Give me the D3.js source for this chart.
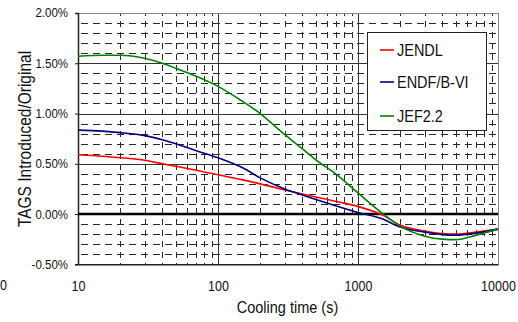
<!DOCTYPE html>
<html>
<head>
<meta charset="utf-8">
<script src="https://cdn.jsdelivr.net/npm/d3@7"></script>
<style>
  html, body { margin: 0; padding: 0; background: #fff; }
  svg { display: block; font-family: "Liberation Sans", Arial, sans-serif; }
</style>
</head>
<body>
<svg id="chart" width="518" height="322"></svg>
<script>
// Cooling time (s)
const times = [10, 15, 20, 30, 40, 50, 70, 100, 150, 200, 300, 400, 500, 700, 1000, 1500, 2000, 3000, 4000, 5000, 7000, 10000];
// Ratio change, in percent
const jendl = [0.59, 0.575, 0.56, 0.535, 0.50, 0.475, 0.435, 0.39, 0.34, 0.30, 0.24, 0.20, 0.17, 0.125, 0.075, -0.01, -0.11, -0.17, -0.195, -0.20, -0.18, -0.15];
const endf  = [0.835, 0.825, 0.81, 0.78, 0.74, 0.70, 0.63, 0.56, 0.46, 0.36, 0.25, 0.19, 0.145, 0.08, 0.015, -0.05, -0.13, -0.18, -0.205, -0.21, -0.19, -0.15];
const jef   = [1.57, 1.58, 1.58, 1.55, 1.50, 1.45, 1.37, 1.27, 1.12, 1.00, 0.79, 0.65, 0.54, 0.395, 0.21, 0.005, -0.12, -0.22, -0.25, -0.255, -0.21, -0.15];

const seriesNames = ["JENDL", "ENDF/B-VI", "JEF2.2"];
const seriesColors = ["#ff0000", "#000080", "#008000"];
const seriesValues = [jendl, endf, jef];

const xTicks = [10, 100, 1000, 10000];
const yTicks = [-0.5, 0, 0.5, 1.0, 1.5, 2.0];
const yTickLabels = ["-0.50%", "0.00%", "0.50%", "1.00%", "1.50%", "2.00%"];

const svg = d3.select("#chart");
const plotLeft = 78, plotRight = 498, plotTop = 13, plotBottom = 264.3;
const stretch = 1.15; // glyphs are drawn slightly taller than wide

const x = d3.scaleLog().domain([10, 10000]).range([plotLeft, plotRight]);
const y = d3.scaleLinear().domain([-0.5, 2.0]).range([plotBottom, plotTop]);

// text placed at (tx, ty) with vertical stretch
function label(parent, tx, ty, str, size, anchor, rot) {
  return parent.append("text")
    .attr("transform", `translate(${tx},${ty})` + (rot ? ` rotate(${rot})` : "") + ` scale(1,${stretch})`)
    .attr("text-anchor", anchor || "start")
    .attr("font-size", size).attr("fill", "#111")
    .text(str);
}

const grid = svg.append("g");

// minor horizontal grid every 0.1%
const minorY = d3.range(-4, 20).map(i => i / 10).filter(v => Math.abs(v * 2 - Math.round(v * 2)) > 1e-6);
grid.selectAll("line.hminor").data(minorY).join("line")
  .attr("x1", plotLeft).attr("x2", plotRight)
  .attr("y1", d => Math.round(y(d)) + 0.5).attr("y2", d => Math.round(y(d)) + 0.5)
  .attr("stroke", "#2a2a2a").attr("stroke-width", 1)
  .attr("stroke-dasharray", "7,5").attr("stroke-dashoffset", -3);

// minor vertical grid at 2..9 of each decade
const minorX = [];
[10, 100, 1000].forEach(d => { for (let k = 2; k <= 9; k++) minorX.push(d * k); });
grid.selectAll("line.vminor").data(minorX).join("line")
  .attr("x1", d => Math.round(x(d)) + 0.5).attr("x2", d => Math.round(x(d)) + 0.5)
  .attr("y1", plotTop).attr("y2", plotBottom)
  .attr("stroke", "#2a2a2a").attr("stroke-width", 1)
  .attr("stroke-dasharray", "6,5").attr("stroke-dashoffset", 3);

// major horizontal grid
grid.selectAll("line.hmajor").data([0.5, 1.0, 1.5]).join("line")
  .attr("x1", plotLeft).attr("x2", plotRight)
  .attr("y1", d => Math.round(y(d)) + 0.5).attr("y2", d => Math.round(y(d)) + 0.5)
  .attr("stroke", "#333").attr("stroke-width", 1);

// major vertical grid
grid.selectAll("line.vmajor").data([100, 1000]).join("line")
  .attr("x1", d => Math.round(x(d)) + 0.5).attr("x2", d => Math.round(x(d)) + 0.5)
  .attr("y1", plotTop).attr("y2", plotBottom)
  .attr("stroke", "#333").attr("stroke-width", 1);

// plot frame: top and right in grey
svg.append("line").attr("x1", plotLeft).attr("x2", plotRight + 0.5).attr("y1", plotTop + 0.5).attr("y2", plotTop + 0.5)
  .attr("stroke", "#888").attr("stroke-width", 1);
svg.append("line").attr("x1", plotRight + 0.5).attr("x2", plotRight + 0.5).attr("y1", plotTop).attr("y2", plotBottom)
  .attr("stroke", "#888").attr("stroke-width", 1);

// axes
const yAxis = svg.append("g").attr("transform", `translate(${plotLeft},0)`)
  .call(d3.axisLeft(y).tickValues(yTicks).tickSize(3).tickFormat((d, i) => yTickLabels[i]));
yAxis.select(".domain").attr("stroke", "#222").attr("stroke-width", 1.5);
yAxis.selectAll(".tick line").attr("stroke", "#222");
yAxis.selectAll(".tick text")
  .attr("x", -10).attr("dy", "0.3em").attr("font-size", 11.5).attr("fill", "#111")
  .attr("font-family", "Liberation Sans, Arial, sans-serif")
  .attr("transform", `scale(1,${stretch})`);

const xAxis = svg.append("g").attr("transform", `translate(0,${plotBottom})`)
  .call(d3.axisBottom(x).tickValues(xTicks).tickSize(0).tickFormat(d3.format("d")));
xAxis.select(".domain").attr("stroke", "#222").attr("stroke-width", 1.5);
xAxis.selectAll(".tick text")
  .attr("y", 14).attr("font-size", 12.5).attr("fill", "#111")
  .attr("font-family", "Liberation Sans, Arial, sans-serif")
  .attr("transform", `scale(1,${stretch})`);

// zero line
svg.append("line").attr("x1", plotLeft).attr("x2", plotRight)
  .attr("y1", y(0)).attr("y2", y(0))
  .attr("stroke", "#000").attr("stroke-width", 2.5);

// series lines
const line = d3.line().x(d => x(d[0])).y(d => y(d[1])).curve(d3.curveMonotoneX);
seriesValues.forEach((vals, i) => {
  svg.append("path")
    .datum(times.map((t, j) => [t, vals[j]]))
    .attr("fill", "none")
    .attr("stroke", seriesColors[i])
    .attr("stroke-width", 1.6)
    .attr("d", line);
});

// legend
const lg = svg.append("g");
lg.append("rect").attr("x", 367.5).attr("y", 32.5).attr("width", 119).attr("height", 98)
  .attr("fill", "#fff").attr("stroke", "#222").attr("stroke-width", 1);
const legendY = [50, 82, 116];
seriesNames.forEach((name, i) => {
  lg.append("line").attr("x1", 380).attr("x2", 394)
    .attr("y1", legendY[i]).attr("y2", legendY[i])
    .attr("stroke", seriesColors[i]).attr("stroke-width", 1.6);
  label(lg, 397, legendY[i] + 5.5, name, 14.5, "start");
});

// axis titles
label(svg, 31, 139, "TAGS Introduced/Original", 15.5, "middle", -90);
label(svg, 287.5, 313, "Cooling time (s)", 14.5, "middle");

// extra tick label at the left edge
label(svg, 0, 290, "0", 12.5, "start");
</script>
</body>
</html>
